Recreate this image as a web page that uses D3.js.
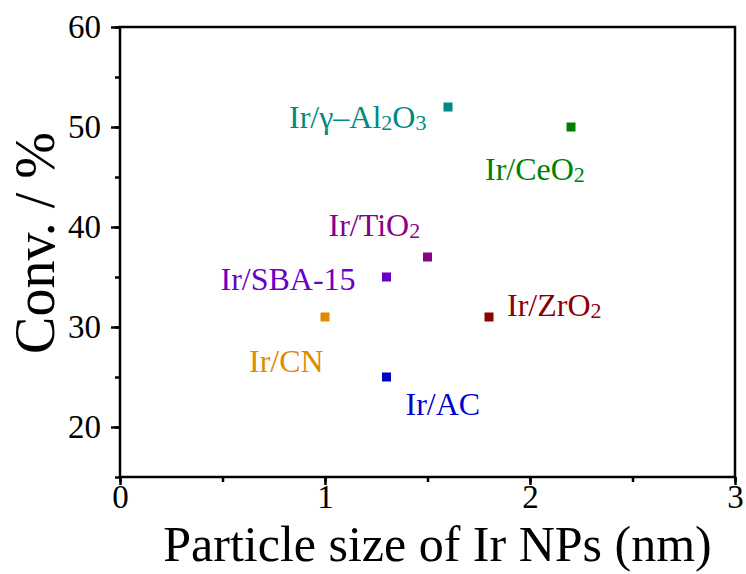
<!DOCTYPE html>
<html>
<head>
<meta charset="utf-8">
<script src="https://cdn.jsdelivr.net/npm/d3@7"></script>
<style>
  body { margin: 0; background: #fff; }
  svg { display: block; }
</style>
</head>
<body>
<div id="chart"></div>
<script>
// catalysts, particle size (nm), conversion (%)
const catalysts = ["Ir/γ–Al2O3", "Ir/CeO2", "Ir/TiO2", "Ir/SBA-15", "Ir/ZrO2", "Ir/CN", "Ir/AC"];
const sizes = [1.6, 2.2, 1.5, 1.3, 1.8, 1.0, 1.3];
const conversions = [52, 50, 37, 35, 31, 31, 25];
const colors = ["#008a84", "#008000", "#8a008a", "#6a00c8", "#8b0000", "#e08a00", "#0000c8"];
const xTicks = [0, 1, 2, 3];
const yTicks = [20, 30, 40, 50, 60];

// label placement relative to the marker (px)
const labelOffsets = [[-159, 21], [-86, 53], [-99, -21], [-166, 13], [18, -1], [-76, 55], [19, 38]];

const W = 746, H = 574;
const margin = {left: 120, right: 11, top: 27, bottom: 97};
const FONT = "'Liberation Serif', 'Times New Roman', serif";

const svg = d3.select("#chart").append("svg")
  .attr("width", W).attr("height", H)
  .style("font-family", FONT);

const x = d3.scaleLinear().domain([0, 3]).range([margin.left, W - margin.right]);
const y = d3.scaleLinear().domain([15, 60]).range([H - margin.bottom, margin.top]);

// minor ticks
const xMinor = d3.axisBottom(x).tickValues(d3.range(0, 3.01, 0.5)).tickSize(5).tickFormat("");
const yMinor = d3.axisLeft(y).tickValues(d3.range(15, 60.1, 5)).tickSize(5).tickFormat("");
svg.append("g").attr("transform", `translate(0,${y(15)})`).call(xMinor);
svg.append("g").attr("transform", `translate(${x(0)},0)`).call(yMinor);

const xAxis = svg.append("g")
  .attr("transform", `translate(0,${y(15)})`)
  .call(d3.axisBottom(x).tickValues(xTicks).tickSize(8).tickPadding(0).tickFormat(d3.format("d")));
const yAxis = svg.append("g")
  .attr("transform", `translate(${x(0)},0)`)
  .call(d3.axisLeft(y).tickValues(yTicks).tickSize(9).tickPadding(10));

svg.selectAll(".domain").remove();
svg.selectAll(".tick line").attr("stroke", "#000").attr("stroke-width", 2.5);
[xAxis, yAxis].forEach(a => a.selectAll("text")
  .style("font-family", FONT).style("font-size", "33px").attr("fill", "#000"));

// frame
svg.append("rect")
  .attr("x", x(0)).attr("y", y(60))
  .attr("width", x(3) - x(0)).attr("height", y(15) - y(60))
  .attr("fill", "none").attr("stroke", "#000").attr("stroke-width", 2.5);

// axis titles
svg.append("text")
  .attr("x", (x(0) + x(3)) / 2 + 10).attr("y", 561)
  .attr("text-anchor", "middle")
  .style("font-size", "50px")
  .text("Particle size of Ir NPs (nm)");

svg.append("text")
  .attr("transform", `translate(54,${243}) rotate(-90)`)
  .attr("text-anchor", "middle")
  .style("font-size", "56px")
  .text("Conv. / %");

// markers
const S = 9;
svg.selectAll(".pt")
  .data(catalysts)
  .join("rect")
  .attr("class", "pt")
  .attr("x", (d, i) => x(sizes[i]) - S / 2)
  .attr("y", (d, i) => y(conversions[i]) - S / 2)
  .attr("width", S).attr("height", S)
  .attr("fill", (d, i) => colors[i]);

// labels with subscripted digits after element symbols
const labels = svg.selectAll(".lbl")
  .data(catalysts)
  .join("text")
  .attr("class", "lbl")
  .attr("x", (d, i) => x(sizes[i]) + labelOffsets[i][0])
  .attr("y", (d, i) => y(conversions[i]) + labelOffsets[i][1])
  .attr("fill", (d, i) => colors[i])
  .style("font-size", "32px");

labels.each(function(d) {
  const t = d3.select(this);
  const parts = d.split(/(?<=[A-Za-z])(\d)/);
  let sub = false;
  parts.forEach((p, k) => {
    if (!p) return;
    const isSub = k % 2 === 1;
    t.append("tspan")
      .attr("dy", isSub && !sub ? 2 : (!isSub && sub ? -2 : 0))
      .style("font-size", isSub ? "22px" : "32px")
      .text(p);
    sub = isSub;
  });
});
</script>
</body>
</html>
